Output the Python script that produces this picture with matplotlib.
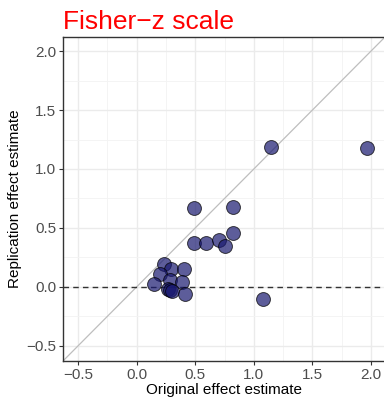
import numpy as np
import matplotlib
matplotlib.use("Agg")
import matplotlib.pyplot as plt
from matplotlib.ticker import MultipleLocator

plt.rcParams['font.family'] = ['Liberation Sans', 'DejaVu Sans']

## data (Fisher-z)
orig = [1.15, 1.97, 0.49, 0.82, 0.82, 0.49, 0.59, 0.70, 0.75,
        0.23, 0.29, 0.40, 0.20, 0.28, 0.39, 0.15, 0.27, 0.28, 0.30, 0.41, 1.08]
repl = [1.19, 1.18, 0.67, 0.68, 0.46, 0.37, 0.37, 0.40, 0.35,
        0.19, 0.15, 0.15, 0.11, 0.06, 0.04, 0.02, -0.02, -0.03, -0.04, -0.06, -0.10]

lims = (-0.63, 2.12)
ticks = [-0.5, 0.0, 0.5, 1.0, 1.5, 2.0]
ticklabels = ['\u22120.5', '0.0', '0.5', '1.0', '1.5', '2.0']

fig = plt.figure(figsize=(3.84, 3.98), dpi=100)
ax = fig.add_axes([63/384, 37/398, 322/384, 324/398])
ax.set_axisbelow(True)

ax.set_xlim(lims)
ax.set_ylim(lims)
ax.xaxis.set_minor_locator(MultipleLocator(0.25))
ax.yaxis.set_minor_locator(MultipleLocator(0.25))
ax.grid(which='major', color='#EBEBEB', lw=1.0)
ax.grid(which='minor', color='#F3F3F3', lw=0.6)
ax.tick_params(which='minor', length=0)
ax.tick_params(which='major', length=3, pad=2, color='#333333', labelcolor='#4D4D4D',
               labelsize=11, width=0.8)
ax.set_xticks(ticks)
ax.set_yticks(ticks)
ax.set_xticklabels(ticklabels)
ax.set_yticklabels(ticklabels)

for s in ['left', 'bottom', 'top']:
    ax.spines[s].set_color('#333333')
    ax.spines[s].set_linewidth(1.0)
ax.spines['right'].set_visible(False)

ax.plot(lims, lims, color='#BEBEBE', lw=0.9, zorder=2)
ax.axhline(0, color='#333333', ls=(0, (4, 3)), lw=1.0, zorder=2)

ax.scatter(orig, repl, s=100, color='#191970', alpha=0.7, edgecolors='black',
           linewidths=0.7, zorder=3)

ax.set_xlabel('Original effect estimate', fontsize=11, labelpad=1)
ax.set_ylabel('Replication effect estimate', fontsize=11)
ax.yaxis.set_label_coords(-0.128, 0.5)
ax.set_title('Fisher\u2212z scale', color='red', fontsize=19, loc='left', pad=6)

fig.savefig('out.png', dpi=100)
